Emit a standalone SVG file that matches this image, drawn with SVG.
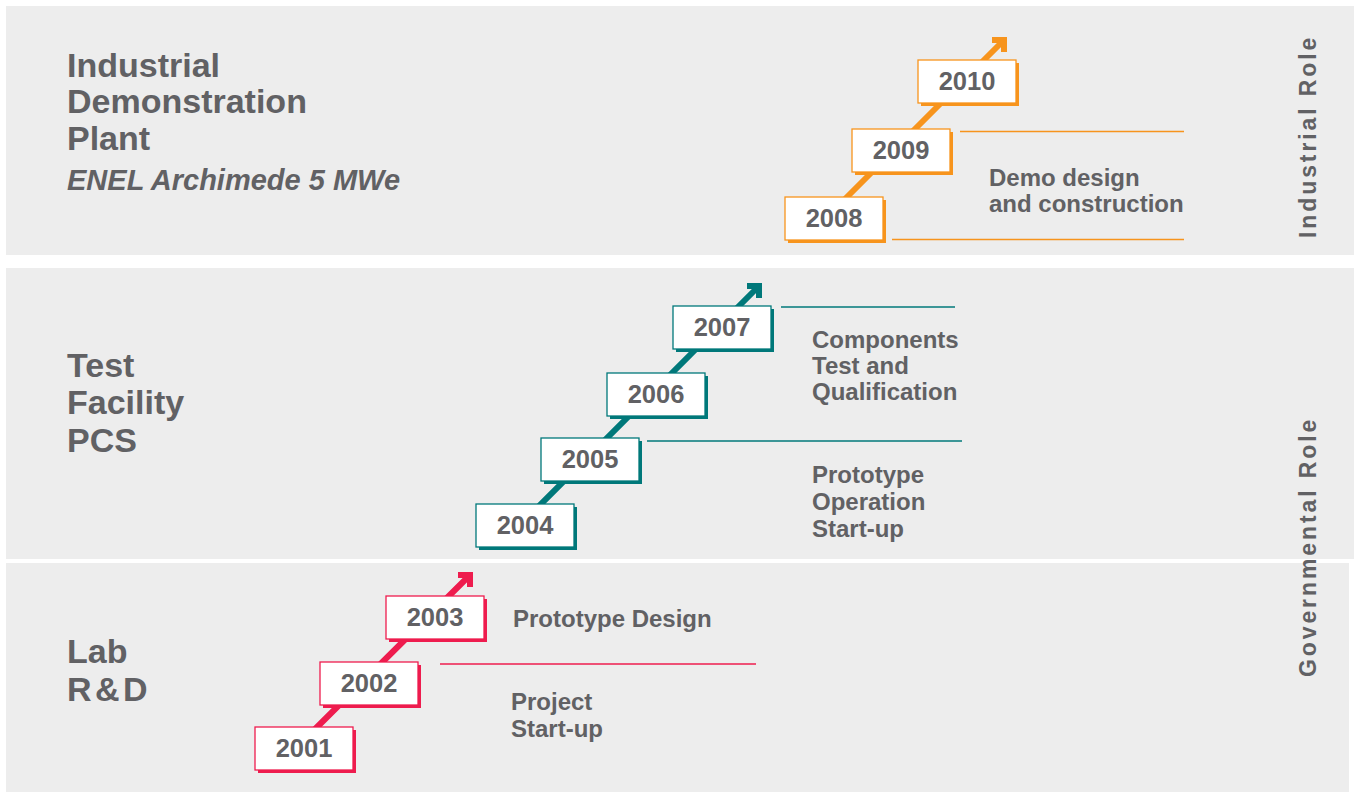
<svg xmlns="http://www.w3.org/2000/svg" width="1354" height="792" viewBox="0 0 1354 792">
<style>
.band{fill:#EDEDED}
.t{font-family:"Liberation Sans",Arial,sans-serif;font-weight:bold;fill:#616164}
.title{font-size:34px}
.sub{font-size:29px;font-style:italic}
.lbl{font-size:24px}
.yr{font-size:25.5px;text-anchor:middle}
.vert{font-size:23px;letter-spacing:2.9px}
.box{fill:#fff;stroke-width:1.3}
.or .sh,.or .ln{fill:#F7941D}
.or .box,.or .arr{stroke:#F7941D}
.te .sh{fill:#00787A}
.te .box,.te .arr{stroke:#00787A}
.rd .sh{fill:#EE1C4E}
.rd .box,.rd .arr{stroke:#EE1C4E}
.arr{fill:none;stroke-width:6;stroke-linejoin:miter}
.hl{stroke-width:1.3}
</style>
<rect width="1354" height="792" fill="#fff"/>
<g id="bands">
<rect class="band" x="6" y="6" width="1348" height="249"/>
<rect class="band" x="6" y="268" width="1348" height="291"/>
<rect class="band" x="6" y="563" width="1343" height="229"/>
</g>
<g id="titles">
<text class="t title" x="67" y="77">Industrial</text>
<text class="t title" x="67" y="113">Demonstration</text>
<text class="t title" x="67" y="150">Plant</text>
<text class="t sub" x="67" y="190">ENEL Archimede 5 MWe</text>
<text class="t title" x="67" y="377">Test</text>
<text class="t title" x="67" y="414">Facility</text>
<text class="t title" x="67" y="452">PCS</text>
<text class="t title" x="67" y="663">Lab</text>
<text class="t title" x="67" y="701" word-spacing="-6">R &amp; D</text>
</g>
<g id="roles">
<text class="t vert" transform="translate(1316,238) rotate(-90)">Industrial Role</text>
<text class="t vert" transform="translate(1316,677) rotate(-90)">Governmental Role</text>
</g>
<g id="connectors">
<g class="or">
<path class="arr" d="M830,214 L1004,40 M992,40 L1004,40 L1004,52"/>
<line class="hl" x1="960" y1="131.5" x2="1184" y2="131.5" stroke="#F7941D"/>
<line class="hl" x1="892" y1="239.5" x2="1184" y2="239.5" stroke="#F7941D"/>
</g>
<g class="te">
<path class="arr" d="M515,530 L759,286 M747,286 L759,286 L759,298"/>
<line class="hl" x1="781" y1="307" x2="955" y2="307" stroke="#00787A"/>
<line class="hl" x1="647" y1="441" x2="962" y2="441" stroke="#00787A"/>
</g>
<g class="rd">
<path class="arr" d="M300,744 L470,575 M458,575 L470,575 L470,587"/>
<line class="hl" x1="440" y1="664" x2="756" y2="664" stroke="#EE1C4E"/>
</g>
</g>
<g class="rd">
<g id="y2001"><rect class="sh" x="258" y="730" width="98" height="43"/><rect class="box" x="255" y="727" width="98" height="43"/><text class="t yr" x="304" y="757">2001</text></g>
<g id="y2002"><rect class="sh" x="323" y="665" width="98" height="43"/><rect class="box" x="320" y="662" width="98" height="43"/><text class="t yr" x="369" y="692">2002</text></g>
<g id="y2003"><rect class="sh" x="389" y="599" width="98" height="43"/><rect class="box" x="386" y="596" width="98" height="43"/><text class="t yr" x="435" y="626">2003</text></g>
</g>
<g class="te">
<g id="y2004"><rect class="sh" x="479" y="507" width="98" height="43"/><rect class="box" x="476" y="504" width="98" height="43"/><text class="t yr" x="525" y="534">2004</text></g>
<g id="y2005"><rect class="sh" x="544" y="441" width="98" height="43"/><rect class="box" x="541" y="438" width="98" height="43"/><text class="t yr" x="590" y="468">2005</text></g>
<g id="y2006"><rect class="sh" x="610" y="376" width="98" height="43"/><rect class="box" x="607" y="373" width="98" height="43"/><text class="t yr" x="656" y="403">2006</text></g>
<g id="y2007"><rect class="sh" x="676" y="309" width="98" height="43"/><rect class="box" x="673" y="306" width="98" height="43"/><text class="t yr" x="722" y="336">2007</text></g>
</g>
<g class="or">
<g id="y2008"><rect class="sh" x="788" y="200" width="98" height="43"/><rect class="box" x="785" y="197" width="98" height="43"/><text class="t yr" x="834" y="227">2008</text></g>
<g id="y2009"><rect class="sh" x="855" y="132" width="98" height="43"/><rect class="box" x="852" y="129" width="98" height="43"/><text class="t yr" x="901" y="159">2009</text></g>
<g id="y2010"><rect class="sh" x="921" y="63" width="98" height="43"/><rect class="box" x="918" y="60" width="98" height="43"/><text class="t yr" x="967" y="90">2010</text></g>
</g>
<g id="labels">
<text class="t lbl" x="989" y="186">Demo design</text>
<text class="t lbl" x="989" y="212">and construction</text>
<text class="t lbl" x="812" y="348">Components</text>
<text class="t lbl" x="812" y="374">Test and</text>
<text class="t lbl" x="812" y="400">Qualification</text>
<text class="t lbl" x="812" y="483">Prototype</text>
<text class="t lbl" x="812" y="510">Operation</text>
<text class="t lbl" x="812" y="537">Start-up</text>
<text class="t lbl" x="513" y="627">Prototype Design</text>
<text class="t lbl" x="511" y="710">Project</text>
<text class="t lbl" x="511" y="737">Start-up</text>
</g>
</svg>
